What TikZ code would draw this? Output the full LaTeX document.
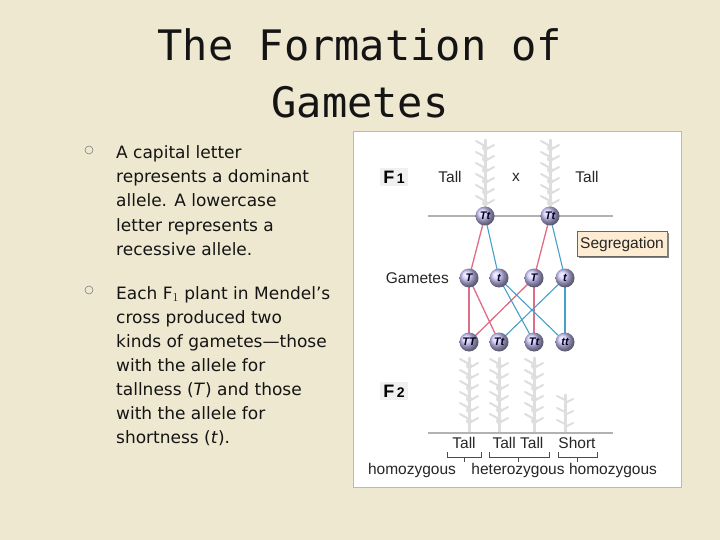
\documentclass[tikz,border=0pt]{standalone}
\usepackage{fontspec}
\usetikzlibrary{calc}
\setmainfont{DejaVu Sans}
\newfontfamily\titlefont{DejaVu Sans Mono}
\newfontfamily\figfont{Liberation Sans}
\definecolor{parch}{RGB}{238,232,208}
\definecolor{ink}{RGB}{20,20,20}
\definecolor{redl}{RGB}{222,110,135}
\definecolor{bluel}{RGB}{70,160,200}
\definecolor{ballc}{RGB}{205,198,252}
\definecolor{plantc}{RGB}{222,222,222}
\definecolor{segfill}{RGB}{253,236,210}
\begin{document}
\begin{tikzpicture}[x=1pt,y=-1pt,
  bodytxt/.style={anchor=base west,font=\fontsize{17}{20}\selectfont,text=ink,inner sep=0},
  ttl/.style={font=\titlefont\fontsize{42}{46}\selectfont,text=ink,inner sep=0},
  allele/.style={circle,minimum size=19pt,inner sep=0,ball color=ballc,text=black!90!blue,font=\figfont\bfseries\itshape\fontsize{11}{11}\selectfont},
  lbl/.style={font=\figfont\fontsize{15.5}{16}\selectfont,text=black!85,inner sep=0},
  gen/.style={font=\figfont\bfseries\fontsize{18}{18}\selectfont,fill=black!6,inner sep=3pt},
  bullet/.style={circle,draw=black!50,line width=0.6pt,minimum size=8pt,inner sep=0},
  redc/.style={redl,line width=1.3pt},
  bluec/.style={bluel,line width=1.1pt},
  plant/.style={plantc,line width=3pt,line cap=round}]
\fill[parch] (0,0) rectangle (720,540);
\useasboundingbox (0,0) rectangle (720,540);
% title
\node[ttl] (t1) at (360,45) {The Formation of};
\node[ttl] (t2) at (360,102) {Gametes};
% bullets
\node[bullet] (b1) at (89,150) {};
\node[bullet] (b2) at (89,290) {};
\node[bodytxt] (l1) at (116,159) {A capital letter};
\node[bodytxt] (l2) at (116,183) {represents a dominant};
\node[bodytxt] (l3) at (116,207) {allele. A lowercase};
\node[bodytxt] (l4) at (116,231) {letter represents a};
\node[bodytxt] (l5) at (116,255) {recessive allele.};
\node[bodytxt] (m1) at (116,299) {Each F$_1$ plant in Mendel’s};
\node[bodytxt] (m2) at (116,323) {cross produced two};
\node[bodytxt] (m3) at (116,347) {kinds of gametes—those};
\node[bodytxt] (m4) at (116,371) {with the allele for};
\node[bodytxt] (m5) at (116,395) {tallness (\textit{T}) and those};
\node[bodytxt] (m6) at (116,419) {with the allele for};
\node[bodytxt] (m7) at (116,443) {shortness (\textit{t}).};
% panel
\fill[white,draw=parch!80!black,line width=0.5pt] (353,131) rectangle (681,487);
% plants (faint)
\foreach \px/\ptop/\pbot in {485/140/214,550/140/214,469/358/432,499/358/432,534/358/432}{
  \draw[plant] (\px,\ptop) -- (\px,\pbot);
  \foreach \k in {0,1,2,3,4,5}{
    \pgfmathsetmacro{\yy}{\ptop+6+\k*11}
    \draw[plant,line width=2pt] (\px,\yy) -- ++(-9,-5);
    \draw[plant,line width=2pt] (\px,\yy+4) -- ++(9,-5);
    \fill[plantc] (\px,\yy+2) circle (3);
  }
}
\draw[plant] (565,432) -- (565,395);
\foreach \yy in {400,412,424}{\draw[plant,line width=2pt] (565,\yy) -- ++(-8,-4); \draw[plant,line width=2pt] (565,\yy+3) -- ++(8,-4);}
% labels
\node[gen] (F1) at (394,177) {F\fontsize{14}{14}\selectfont\,1};
\node[gen] (F2) at (394,391) {F\fontsize{14}{14}\selectfont\,2};
\node[lbl] (tall1) at (450,177) {Tall};
\node[lbl] (cross) at (516,177) {x};
\node[lbl] (tall2) at (587,177) {Tall};
\coordinate (la) at (428,216); \coordinate (lb) at (613,216);
\draw[black!30,line width=1.5pt] (la) -- (lb);
\coordinate (lc) at (428,433); \coordinate (ld) at (613,433);
\draw[black!30,line width=1.5pt] (lc) -- (ld);
\node[lbl,anchor=east] (gam) at (449,278) {Gametes};
\node[lbl,fill=segfill,draw=black!60,inner xsep=3pt,inner ysep=5pt,line width=0.6pt] (seg) at (622,244) {Segregation};
\draw[black!50,line width=1.5pt] ($(seg.south west)+(2,1)$) -- ($(seg.south east)+(1,1)$) -- ($(seg.north east)+(1,2)$);
% connectors
\draw[redc] (485,216) -- (469,278);
\draw[bluec] (485,216) -- (499,278);
\draw[redc] (550,216) -- (534,278);
\draw[bluec] (550,216) -- (565,278);
\draw[redc] (469,278) -- (469,342);
\draw[redc] (469,278) -- (499,342);
\draw[redc] (534,278) -- (469,342);
\draw[redc,line width=2.2pt] (534,278) -- (534,342);
\draw[bluec] (499,278) -- (534,342);
\draw[bluec] (499,278) -- (565,342);
\draw[bluec] (565,278) -- (499,342);
\draw[bluec] (565,278) -- (565,342);
% alleles
\node[allele] (P1) at (485,216) {Tt};
\node[allele] (P2) at (550,216) {Tt};
\node[allele] (g1) at (469,278) {T};
\node[allele] (g2) at (499,278) {t};
\node[allele] (g3) at (534,278) {T};
\node[allele] (g4) at (565,278) {t};
\node[allele] (o1) at (469,342) {TT};
\node[allele] (o2) at (499,342) {Tt};
\node[allele] (o3) at (534,342) {Tt};
\node[allele] (o4) at (565,342) {tt};
% bottom labels
\node[lbl] (s1) at (464,443) {Tall};
\node[lbl] (s2) at (518,443) {Tall Tall};
\node[lbl] (s3) at (577,443) {Short};
\draw[black!70,line width=0.6pt] (447,452) -- (447,457) -- (481,457) -- (481,452) (464,457) -- (464,462);
\draw[black!70,line width=0.6pt] (489,452) -- (489,457) -- (549,457) -- (549,452) (518,457) -- (518,462);
\draw[black!70,line width=0.6pt] (558,452) -- (558,457) -- (597,457) -- (597,452) (577,457) -- (577,462);
\node[lbl] (h1) at (412,470) {homozygous};
\node[lbl] (h2) at (518,470) {heterozygous};
\node[lbl] (h3) at (613,470) {homozygous};
\end{tikzpicture}
\end{document}
